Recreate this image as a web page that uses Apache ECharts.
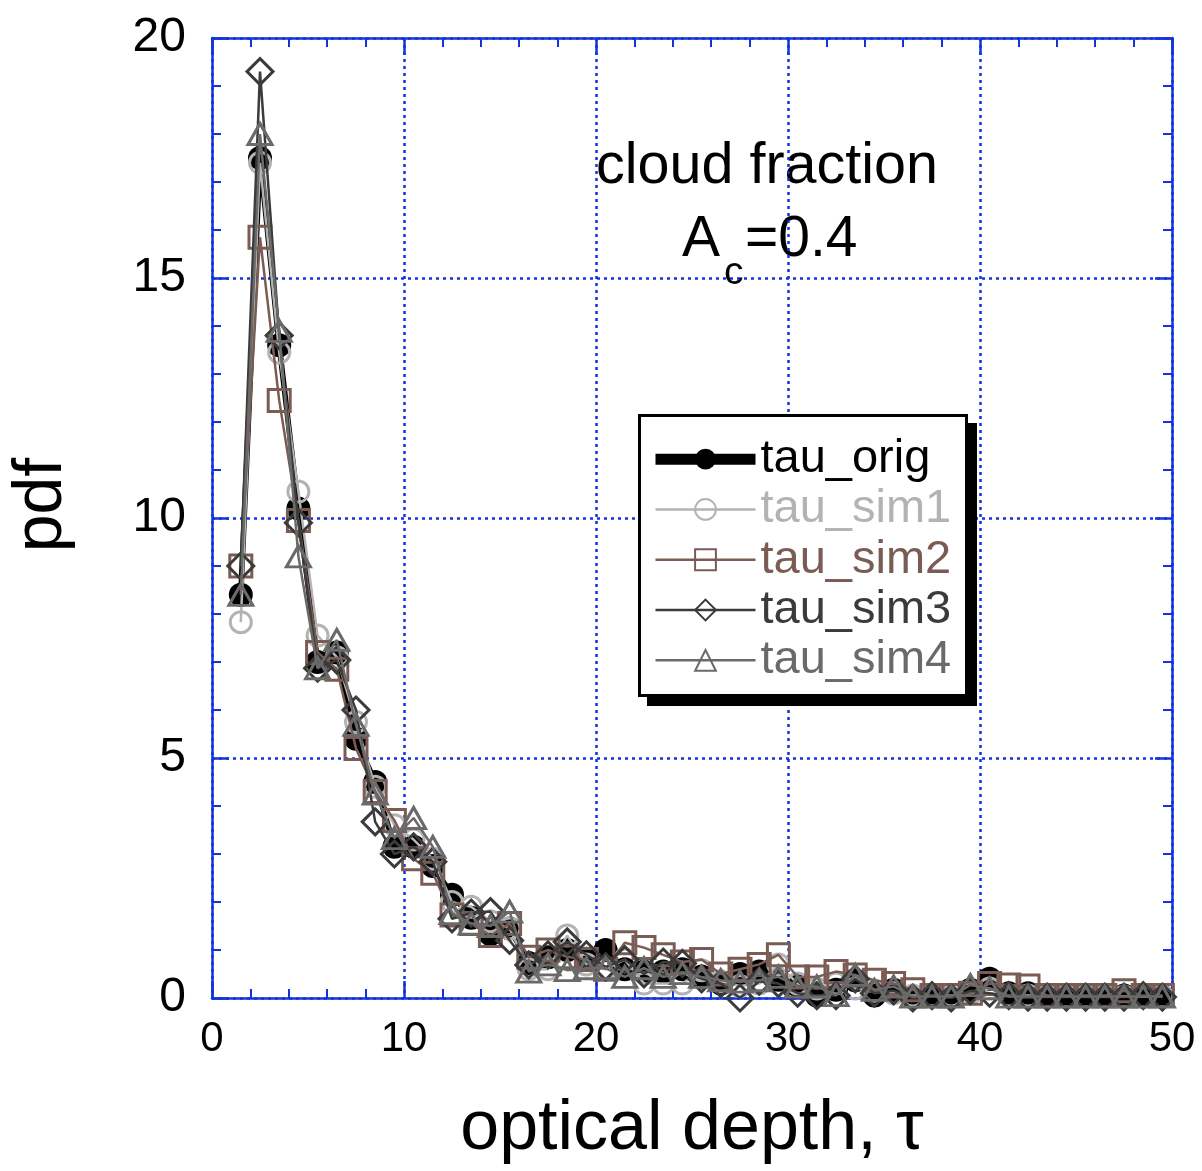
<!DOCTYPE html>
<html>
<head>
<meta charset="utf-8">
<title>Optical depth pdf</title>
<script src="https://cdn.jsdelivr.net/npm/echarts@6/dist/echarts.min.js"></script>
<style>
  html, body { margin: 0; padding: 0; background: #ffffff; }
  #chart { width: 1202px; height: 1171px; }
</style>
</head>
<body>
<div id="chart"></div>
<script>
// Bin centres of optical depth tau
const tau = [1.5, 2.5, 3.5, 4.5, 5.5, 6.5, 7.5, 8.5, 9.5, 10.5,
  11.5, 12.5, 13.5, 14.5, 15.5, 16.5, 17.5, 18.5, 19.5, 20.5,
  21.5, 22.5, 23.5, 24.5, 25.5, 26.5, 27.5, 28.5, 29.5, 30.5,
  31.5, 32.5, 33.5, 34.5, 35.5, 36.5, 37.5, 38.5, 39.5, 40.5,
  41.5, 42.5, 43.5, 44.5, 45.5, 46.5, 47.5, 48.5, 49.5];

// pdf values for each field
const tauOrig = [8.4, 17.5, 13.6, 10.2, 7.0, 7.2, 5.4, 4.5, 3.15, 3.15,
  2.75, 2.15, 1.67, 1.33, 1.45, 0.73, 0.85, 1.0, 0.82, 1.0,
  0.6, 0.55, 0.55, 0.6, 0.45, 0.3, 0.5, 0.55, 0.38, 0.26,
  0.05, 0.17, 0.37, 0.05, 0.17, 0.02, 0.03, 0.03, 0.17, 0.4,
  0.1, 0.1, 0.03, 0.03, 0.03, 0.03, 0.05, 0.03, 0.03];

const tauSim1 = [7.83, 17.4, 13.45, 10.55, 7.55, 7.1, 5.75, 4.4, 3.6, 3.3,
  2.9, 2.0, 1.9, 1.6, 1.45, 0.6, 0.6, 1.3, 0.7, 0.6,
  0.8, 0.3, 0.3, 0.3, 0.58, 0.35, 0.25, 0.3, 0.7, 0.3,
  0.2, 0.3, 0.2, 0.15, 0.1, 0.05, 0.05, 0.05, 0.1, 0.2,
  0.05, 0.05, 0.03, 0.03, 0.03, 0.03, 0.03, 0.03, 0.03];

const tauSim2 = [9.0, 15.85, 12.45, 9.95, 7.2, 6.85, 5.2, 4.3, 3.7, 2.9,
  2.6, 1.73, 1.55, 1.3, 1.55, 0.85, 1.0, 0.86, 0.8, 0.6,
  1.15, 1.05, 0.9, 0.75, 0.8, 0.5, 0.6, 0.7, 0.9, 0.44,
  0.44, 0.55, 0.48, 0.37, 0.3, 0.17, 0.05, 0.05, 0.1, 0.3,
  0.27, 0.25, 0.05, 0.05, 0.05, 0.05, 0.15, 0.05, 0.05];

const tauSim3 = [9.0, 19.3, 13.8, 9.9, 6.87, 7.04, 6.0, 3.67, 3.0, 3.15,
  2.84, 1.65, 1.77, 1.8, 1.2, 0.69, 0.9, 1.17, 0.9, 0.65,
  0.8, 0.5, 0.75, 0.72, 0.4, 0.3, 0.0, 0.35, 0.3, 0.1,
  0.05, 0.05, 0.4, 0.1, 0.15, 0.0, 0.05, 0.0, 0.15, 0.1,
  0.05, 0.02, 0.02, 0.02, 0.02, 0.02, 0.02, 0.05, 0.02];

const tauSim4 = [8.4, 18.0, 13.9, 9.2, 6.87, 7.46, 5.69, 4.26, 3.33, 3.75,
  3.15, 1.77, 1.55, 1.5, 1.8, 0.55, 0.7, 0.58, 0.62, 0.62,
  0.44, 0.62, 0.44, 0.52, 0.44, 0.37, 0.34, 0.37, 0.44, 0.24,
  0.24, 0.06, 0.48, 0.17, 0.24, 0.03, 0.03, 0.03, 0.27, 0.2,
  0.03, 0.03, 0.03, 0.03, 0.03, 0.03, 0.03, 0.03, 0.03];

const seriesNames = ['tau_orig', 'tau_sim1', 'tau_sim2', 'tau_sim3', 'tau_sim4'];
const xTicks = [0, 10, 20, 30, 40, 50];
const yTicks = [0, 5, 10, 15, 20];

const FONT = '"Liberation Sans", Arial, Helvetica, sans-serif';
const AXIS_BLUE = '#1233dd';

function pairs(ys) {
  return tau.map((x, i) => [x, ys[i]]);
}

function axisCommon(showLabels, isX) {
  return {
    min: isX ? xTicks[0] : yTicks[0],
    max: isX ? xTicks[xTicks.length - 1] : yTicks[yTicks.length - 1],
    interval: isX ? 10 : 5,
    axisLine: { show: true, onZero: false, lineStyle: { color: AXIS_BLUE, width: 2.5 } },
    axisTick: { show: true, inside: true, length: 17, lineStyle: { color: AXIS_BLUE, width: 2.5 } },
    minorTick: { show: true, splitNumber: 5, length: 9, lineStyle: { color: AXIS_BLUE, width: 2 } },
    splitLine: { show: false },
    axisLabel: {
      show: showLabels,
      color: '#000',
      fontFamily: FONT,
      fontSize: isX ? 42 : 48,
      margin: isX ? 20 : 26
    }
  };
}

const hollow = (color) => ({ color: 'rgba(255,255,255,0)', borderColor: color, borderWidth: 3 });

const chart = echarts.init(document.getElementById('chart'), null, { renderer: 'canvas' });

// Legend frame: solid drop shadow plus white box with black border
const BOX = { x: 638, y: 414, w: 330, h: 283 };

const option = {
  animation: false,
  backgroundColor: '#ffffff',
  grid: { left: 212, right: 30, top: 38, bottom: 173, containLabel: false, outerBoundsMode: 'none' },
  xAxis: [
    Object.assign(axisCommon(true, true), {
      type: 'value', position: 'bottom',
      splitLine: { show: true, lineStyle: { color: AXIS_BLUE, width: 2.5, type: [3, 4] } },
      name: 'optical depth, \u03c4',
      nameLocation: 'middle',
      nameGap: 97,
      nameTextStyle: { fontFamily: FONT, fontSize: 70, color: '#000' }
    }),
    Object.assign(axisCommon(false, true), { type: 'value', position: 'top' })
  ],
  yAxis: [
    Object.assign(axisCommon(true, false), {
      type: 'value', position: 'left',
      splitLine: { show: true, lineStyle: { color: AXIS_BLUE, width: 2.5, type: [3, 4] } },
      name: 'pdf',
      nameLocation: 'middle',
      nameGap: 136,
      nameRotate: 90,
      nameTextStyle: { fontFamily: FONT, fontSize: 68, color: '#000', padding: [0, 0, 0, 26] }
    }),
    Object.assign(axisCommon(false, false), { type: 'value', position: 'right' })
  ],
  legend: {
    orient: 'vertical',
    left: BOX.x,
    top: BOX.y,
    z: 12,
    padding: [20, 14, 10, 12],
    itemGap: 0,
    itemWidth: 100,
    itemHeight: 26,
    backgroundColor: 'transparent',
    borderWidth: 0,
    selectedMode: false,
    textStyle: { fontFamily: FONT, fontSize: 47, lineHeight: 50.3 },
    data: [
      { name: 'tau_orig', textStyle: { color: '#000000' }, lineStyle: { width: 11 } },
      { name: 'tau_sim1', textStyle: { color: '#b3b3b3' }, lineStyle: { width: 2.5 } },
      { name: 'tau_sim2', textStyle: { color: '#7a5c54' }, lineStyle: { width: 2.5 } },
      { name: 'tau_sim3', textStyle: { color: '#3b3b3b' }, lineStyle: { width: 2.5 } },
      { name: 'tau_sim4', textStyle: { color: '#6a6a6a' }, lineStyle: { width: 2.5 } }
    ]
  },
  graphic: [
    {
      type: 'rect', z: 10, silent: true,
      shape: { x: BOX.x + 9, y: BOX.y + 9, width: BOX.w, height: BOX.h },
      style: { fill: '#000' }
    },
    {
      type: 'rect', z: 11, silent: true,
      shape: { x: BOX.x + 1.5, y: BOX.y + 1.5, width: BOX.w - 3, height: BOX.h - 3 },
      style: { fill: '#fff', stroke: '#000', lineWidth: 3 }
    },
    {
      type: 'text', left: 596, top: 138, silent: true,
      style: { text: 'cloud fraction', fontFamily: FONT, fontSize: 57.5, fill: '#000' }
    },
    {
      type: 'text', left: 682, top: 212, silent: true,
      style: { text: 'A', fontFamily: FONT, fontSize: 57, fill: '#000' }
    },
    {
      type: 'text', left: 724, top: 254, silent: true,
      style: { text: 'c', fontFamily: FONT, fontSize: 39, fill: '#000' }
    },
    {
      type: 'text', left: 745, top: 212, silent: true,
      style: { text: '=0.4', fontFamily: FONT, fontSize: 57, fill: '#000' }
    }
  ],
  series: [
    {
      name: seriesNames[0], type: 'line', data: pairs(tauOrig),
      symbol: 'circle', symbolSize: 24,
      lineStyle: { color: '#000', width: 5.5 },
      itemStyle: { color: '#000' },
      emphasis: { disabled: true }, z: 2
    },
    {
      name: seriesNames[1], type: 'line', data: pairs(tauSim1),
      symbol: 'circle', symbolSize: 21,
      lineStyle: { color: '#b3b3b3', width: 2.5 },
      itemStyle: hollow('#b3b3b3'),
      emphasis: { disabled: true }, z: 3
    },
    {
      name: seriesNames[2], type: 'line', data: pairs(tauSim2),
      symbol: 'rect', symbolSize: 22,
      lineStyle: { color: '#7a5c54', width: 2.5 },
      itemStyle: hollow('#7a5c54'),
      emphasis: { disabled: true }, z: 4
    },
    {
      name: seriesNames[3], type: 'line', data: pairs(tauSim3),
      symbol: 'diamond', symbolSize: [26, 26],
      lineStyle: { color: '#3b3b3b', width: 2.5 },
      itemStyle: hollow('#3b3b3b'),
      emphasis: { disabled: true }, z: 5
    },
    {
      name: seriesNames[4], type: 'line', data: pairs(tauSim4),
      symbol: 'triangle', symbolSize: [24, 21],
      lineStyle: { color: '#6a6a6a', width: 2.5 },
      itemStyle: hollow('#6a6a6a'),
      emphasis: { disabled: true }, z: 6
    }
  ]
};

chart.setOption(option);
</script>
</body>
</html>
